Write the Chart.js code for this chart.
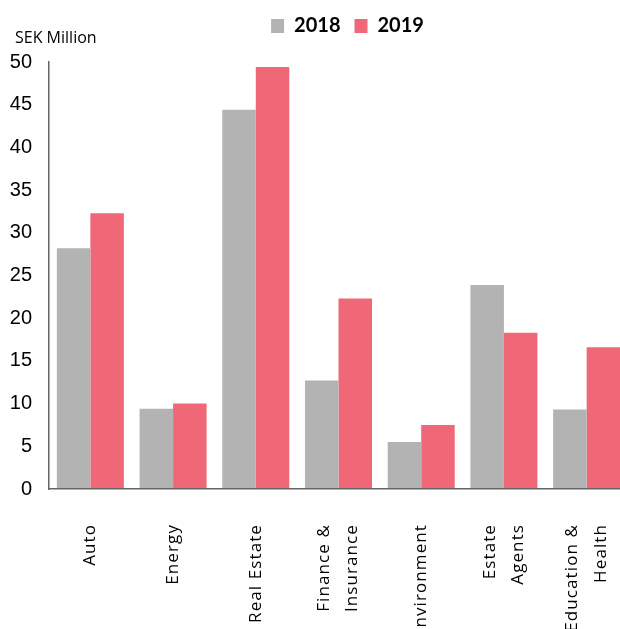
<!DOCTYPE html>
<html lang="en">
<head>
<meta charset="UTF-8">
<title>SEK Million by sector, 2018 vs 2019</title>
<script src="https://cdn.jsdelivr.net/npm/chart.js"></script>
<style>
  body { margin: 0; background: #fff; overflow: hidden; }
  #wrap { width: 695px; height: 629px; }
</style>
</head>
<body>
<div id="wrap"><canvas id="myChart" width="695" height="629"></canvas></div>
<script>
// data
const categories = [['Auto'], ['Energy'], ['Real Estate'], ['Finance &', 'Insurance'],
                    ['Environment'], ['Estate', 'Agents'], ['Education &', 'Health']];
const values2018 = [28.2, 9.4, 44.4, 12.7, 5.5, 23.9, 9.3];
const values2019 = [32.3, 10.0, 49.4, 22.3, 7.5, 18.3, 16.6];
const seriesNames = ['2018', '2019'];
const unitLabel = 'SEK Million';

const grey = '#b3b3b3';
const pink = '#f06777';

// one-line names go on the main axis, two-line names on a second axis
// shifted left by half a line so both lines sit round the category centre
const oneLine = categories.map(c => c.length === 1 ? c[0] : '');
const twoLine = categories.map(c => c.length > 1 ? c : '');

const tickFont = { family: 'Open Sans', size: 17, lineHeight: 1.65 };

const helperPlugin = {
    id: 'helper',
    beforeInit(chart) {
        // more room under the legend
        const fit = chart.legend.fit;
        chart.legend.fit = function () {
            fit.call(this);
            this.height += 16;
        };
    },
    afterLayout(chart) {
        // second label axis has no height of its own, let its labels use the full strip
        chart.scales.x2.bottom = chart.height;
    },
    afterDatasetsDraw(chart) {
        // category labels (drawn after the bars) get the wide spacing
        chart.ctx.letterSpacing = '1.1px';
    },
    afterDraw(chart) {
        const c = chart.ctx;
        c.letterSpacing = '0px';
        c.save();
        c.font = '16px "Open Sans"';
        c.fillStyle = '#000';
        c.fillText(unitLabel, 15, 38);
        c.restore();
    }
};

const ctx = document.getElementById('myChart').getContext('2d');
new Chart(ctx, {
    type: 'bar',
    data: {
        labels: oneLine,
        datasets: [
            { label: seriesNames[0], data: values2018, backgroundColor: grey },
            { label: seriesNames[1], data: values2019, backgroundColor: pink }
        ]
    },
    options: {
        responsive: false,
        animation: false,
        categoryPercentage: 0.81,
        barPercentage: 1,
        layout: { padding: { top: 2 } },
        scales: {
            x: {
                grid: { display: false, drawTicks: false },
                border: { color: '#666', width: 1.5, z: 1 },
                ticks: {
                    z: 1,
                    color: '#000',
                    font: tickFont,
                    minRotation: 90,
                    maxRotation: 90,
                    padding: 35,
                    autoSkip: false
                },
                afterFit: s => { s.height = 140; }
            },
            x2: {
                type: 'category',
                labels: twoLine,
                position: 'bottom',
                offset: true,
                weight: -1,
                grid: { display: false, drawTicks: false },
                border: { display: false },
                ticks: {
                    z: 1,
                    color: '#000',
                    font: tickFont,
                    minRotation: 90,
                    maxRotation: 90,
                    padding: 35,
                    labelOffset: -14,
                    autoSkip: false
                },
                afterFit: s => { s.height = 0; }
            },
            y: {
                min: 0,
                max: 50,
                grid: { display: false, drawTicks: false },
                border: { color: '#666', width: 1.5 },
                ticks: {
                    stepSize: 5,
                    color: '#000',
                    font: { family: 'Liberation Sans', size: 20 },
                    padding: 17
                },
                afterFit: s => { s.width = 49; }
            },
            // blank right axis so the plot stops short of the canvas edge
            yRight: {
                position: 'right',
                display: true,
                grid: { display: false, drawTicks: false },
                border: { display: false },
                ticks: { display: false },
                afterFit: s => { s.width = 67; }
            }
        },
        plugins: {
            legend: {
                position: 'top',
                labels: {
                    color: '#000',
                    boxWidth: 13,
                    boxHeight: 14,
                    padding: 14,
                    font: { family: 'Lato', size: 20, weight: 'bold' }
                }
            },
            tooltip: { enabled: false }
        }
    },
    plugins: [helperPlugin]
});
</script>
</body>
</html>
